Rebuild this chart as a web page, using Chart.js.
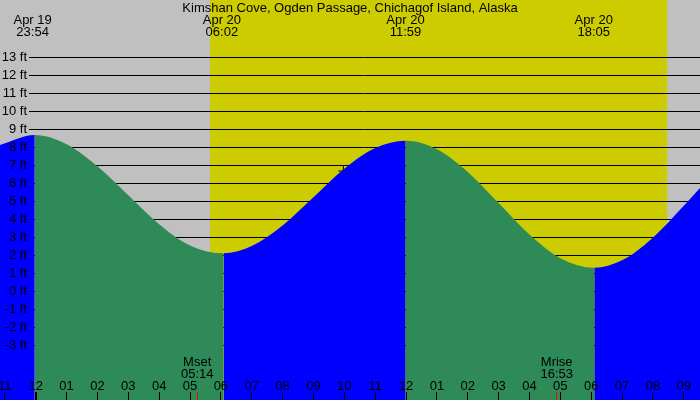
<!DOCTYPE html>
<html><head><meta charset="utf-8">
<script src="https://cdn.jsdelivr.net/npm/chart.js@4.4.0/dist/chart.umd.min.js"></script>
<style>html,body{margin:0;padding:0;background:#c0c0c0;overflow:hidden}#wrap{width:700px;height:400px}</style>
</head><body><div id="wrap"><canvas id="c" width="700" height="400"></canvas></div>
<script>
const title = "Kimshan Cove, Ogden Passage, Chichagof Island, Alaska";
// hours relative to 00:00 Apr 20
const tideHours = [-1.157, -0.03, 1, 2, 3, 4, 5, 6.09, 7, 8, 9, 10, 11, 11.99, 13, 14, 15, 16, 17, 18.1, 19, 20, 21, 21.526];
const tideFeet  = [8.13, 8.68, 8.17, 6.95, 5.34, 3.73, 2.55, 2.11, 2.51, 3.66, 5.23, 6.81, 7.96, 8.37, 7.89, 6.63, 4.90, 3.15, 1.84, 1.31, 1.72, 2.98, 4.75, 5.74];
const extremeHours = [-0.1, 6.033, 11.983, 18.083];
const extremeDates = ["Apr 19", "Apr 20", "Apr 20", "Apr 20"];
const extremeTimes = ["23:54", "06:02", "11:59", "18:05"];
const sunriseHour = 5.65;
const sunsetHour = 20.46;
const moonHours = [5.233, 16.883];
const moonNames = ["Mset", "Mrise"];
const moonTimes = ["05:14", "16:53"];
const hourTicks = [-1,0,1,2,3,4,5,6,7,8,9,10,11,12,13,14,15,16,17,18,19,20,21];
const hourLabels = ["11","12","01","02","03","04","05","06","07","08","09","10","11","12","01","02","03","04","05","06","07","08","09"];
const feetTicks = [-3,-2,-1,0,1,2,3,4,5,6,7,8,9,10,11,12,13];
const markerHours = [9.97];
const markerFeet = [6.68];

const FONT = '13px "Liberation Sans", Arial, sans-serif';
const GREEN = '#2e8b57', BLUE = '#0000ff', GRAY = '#c0c0c0', YELLOW = '#cccc00';

const deco = {
  id: 'deco',
  beforeDraw(chart) {
    const ctx = chart.ctx, xs = chart.scales.x, ys = chart.scales.y;
    ctx.save();
    ctx.fillStyle = GRAY;
    ctx.fillRect(0, 0, chart.width, chart.height);
    const x1 = xs.getPixelForValue(sunriseHour), x2 = xs.getPixelForValue(sunsetHour);
    ctx.fillStyle = YELLOW;
    ctx.fillRect(x1, 0, x2 - x1, chart.height);
    ctx.strokeStyle = '#000';
    ctx.lineWidth = 1;
    feetTicks.forEach(v => {
      const y = Math.floor(ys.getPixelForValue(v)) + 0.5;
      ctx.beginPath(); ctx.moveTo(29, y); ctx.lineTo(chart.width, y); ctx.stroke();
    });
    ctx.restore();
  },
  afterDraw(chart) {
    const ctx = chart.ctx, xs = chart.scales.x, ys = chart.scales.y;
    ctx.save();
    ctx.fillStyle = '#000';
    ctx.font = FONT;
    ctx.textBaseline = 'middle';
    // y labels
    ctx.textAlign = 'right';
    feetTicks.forEach(v => {
      ctx.fillText(v + ' ft', 27, Math.floor(ys.getPixelForValue(v)) + 0.5);
    });
    // hour ticks and labels
    ctx.textAlign = 'center';
    hourTicks.forEach((h, i) => {
      const x = xs.getPixelForValue(h);
      ctx.fillText(hourLabels[i], x, 386);
      ctx.strokeStyle = '#000';
      ctx.lineWidth = h === 0 ? 2 : 1;
      const px = h === 0 ? Math.round(x) : Math.floor(x) + 0.5;
      ctx.beginPath(); ctx.moveTo(px, 392); ctx.lineTo(px, 400); ctx.stroke();
    });
    // moon events
    moonHours.forEach((h, i) => {
      const x = xs.getPixelForValue(h);
      ctx.fillStyle = '#000';
      ctx.fillText(moonNames[i], x, 362);
      ctx.fillText(moonTimes[i], x, 374);
      ctx.strokeStyle = '#ff0000';
      ctx.lineWidth = 1;
      const px = Math.floor(x) + 0.5;
      ctx.beginPath(); ctx.moveTo(px, 392); ctx.lineTo(px, 400); ctx.stroke();
    });
    // title
    ctx.fillStyle = '#000';
    ctx.fillText(title, 350, 8);
    // extremes
    extremeHours.forEach((h, i) => {
      const x = xs.getPixelForValue(h);
      ctx.fillText(extremeDates[i], x, 20);
      ctx.fillText(extremeTimes[i], x, 32);
    });
    ctx.restore();
  }
};

new Chart(document.getElementById('c'), {
  type: 'line',
  data: {
    datasets: [{
      data: tideHours.map((h, i) => ({x: h, y: tideFeet[i]})),
      fill: 'start',
      backgroundColor: BLUE,
      borderColor: 'rgba(0,0,0,0)',
      borderWidth: 0,
      pointRadius: 0,
      cubicInterpolationMode: 'monotone',
      segment: {
        backgroundColor: c => c.p1.parsed.y < c.p0.parsed.y ? GREEN : BLUE
      }
    }, {
      data: markerHours.map((h, i) => ({x: h, y: markerFeet[i]})),
      showLine: false,
      fill: false,
      pointStyle: 'cross',
      pointRadius: 5,
      borderColor: '#000',
      backgroundColor: '#000',
      borderWidth: 1
    }]
  },
  options: {
    responsive: false,
    animation: false,
    devicePixelRatio: 1,
    layout: {padding: 0, autoPadding: false},
    plugins: {legend: {display: false}, tooltip: {enabled: false}},
    scales: {
      x: {type: 'linear', min: -1.157, max: 21.526, display: false},
      y: {type: 'linear', min: -6.039, max: 16.183, display: false}
    }
  },
  plugins: [deco]
});
</script>
</body></html>
